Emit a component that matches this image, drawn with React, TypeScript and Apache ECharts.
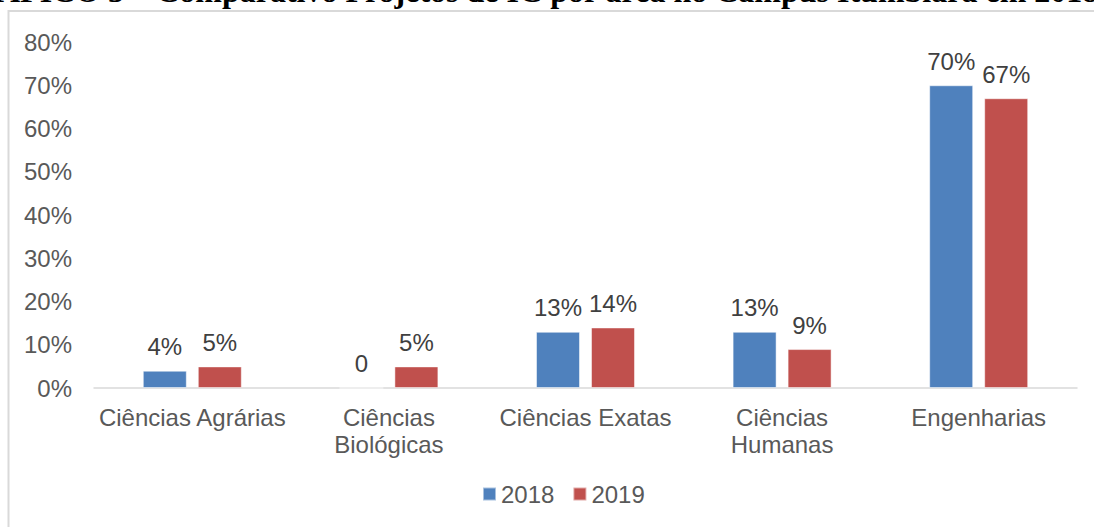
import React, { useEffect, useRef } from "react";
import * as echarts from "echarts";

const categories = [
  "Ciências Agrárias",
  "Ciências\nBiológicas",
  "Ciências Exatas",
  "Ciências\nHumanas",
  "Engenharias",
];
const values2018 = [4, 0, 13, 13, 70];
const values2019 = [5, 5, 14, 9, 67];
const seriesNames = ["2018", "2019"];
const title =
  "GRÁFICO 3 – Comparativo Projetos de IC por área no Campus Itumbiara em 2018 e 2019";

export default function App() {
  const ref = useRef<HTMLDivElement>(null);
  useEffect(() => {
    if (!ref.current) return;
    const chart = echarts.init(ref.current, undefined, { renderer: "svg" });
    const font = "Liberation Sans, Arial, sans-serif";
    const labelFmt = (p: any) => (p.value === 0 ? "0" : `${p.value}%`);
    const mkSeries = (name: string, data: number[], color: string) => ({
      name,
      type: "bar",
      data,
      barWidth: 44,
      barGap: "25%",
      itemStyle: { color, borderColor: "rgba(255,255,255,0.5)", borderWidth: 1 },
      label: {
        show: true,
        position: "top",
        distance: 12,
        formatter: labelFmt,
        color: "#404040",
        fontSize: 24,
        fontFamily: font,
      },
    });
    chart.setOption({
      animation: false,
      backgroundColor: "#ffffff",
      grid: { left: 94, right: 17, top: 42, bottom: 139, containLabel: false },
      legend: {
        show: true,
        bottom: 16,
        left: 477,
        itemWidth: 13,
        itemHeight: 13,
        itemGap: 18,
        icon: "rect",
        textStyle: { color: "#595959", fontSize: 24, fontFamily: font, padding: [0, 0, 0, 0] },
        data: seriesNames,
      },
      xAxis: {
        type: "category",
        data: categories,
        axisLine: { show: true, lineStyle: { color: "#d9d9d9", width: 1.5 } },
        axisTick: { show: false },
        axisLabel: {
          interval: 0,
          color: "#595959",
          fontSize: 24,
          fontFamily: font,
          margin: 16,
          lineHeight: 27,
        },
      },
      yAxis: {
        type: "value",
        min: 0,
        max: 80,
        interval: 10,
        splitLine: { show: false },
        axisLine: { show: false },
        axisTick: { show: false },
        axisLabel: {
          formatter: "{value}%",
          color: "#595959",
          fontSize: 24,
          fontFamily: font,
          margin: 22,
        },
      },
      graphic: [
        {
          type: "rect",
          shape: { x: 8.5, y: 11, width: 1400, height: 800 },
          style: { fill: "none", stroke: "#d9d9d9", lineWidth: 2 },
          silent: true,
        },
        {
          type: "text",
          x: -51,
          y: -9,
          style: {
            text: title,
            fill: "#000000",
            font: "bold 32px 'Liberation Serif', 'Times New Roman', serif",
            textVerticalAlign: "middle",
          },
          silent: true,
        },
      ],
      series: [
        mkSeries(seriesNames[0], values2018, "#4F81BD"),
        mkSeries(seriesNames[1], values2019, "#C0504D"),
      ],
    });
    return () => chart.dispose();
  }, []);
  return (
    <div
      ref={ref}
      style={{ position: "fixed", left: 0, top: 0, width: 1094, height: 527 }}
    />
  );
}
